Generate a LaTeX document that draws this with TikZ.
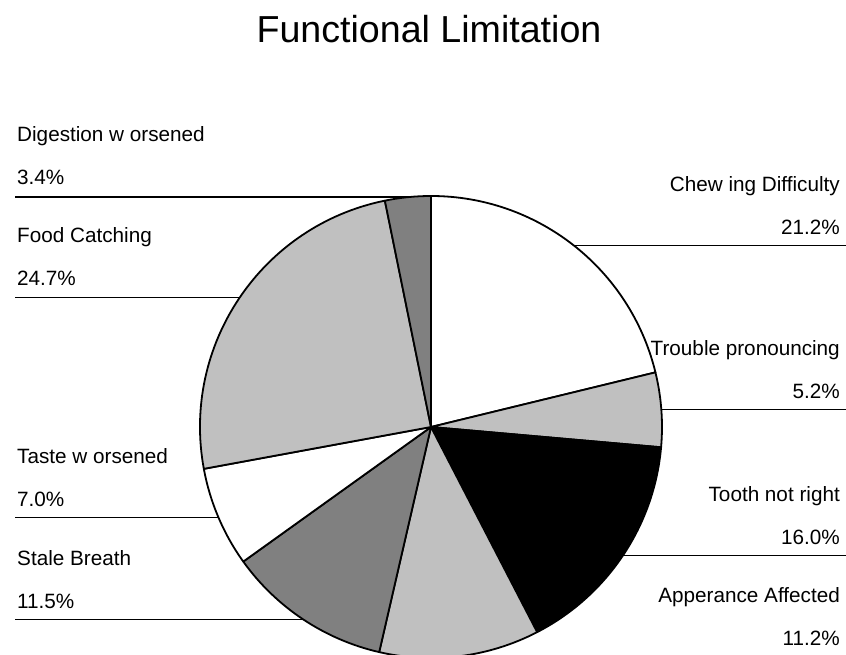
\documentclass[tikz,border=0pt]{standalone}
\usepackage{fontspec}
\setmainfont[Ligatures=NoCommon]{Liberation Sans}
\usepackage{tikz}
\definecolor{litegray}{HTML}{C0C0C0}
\definecolor{darkgray}{HTML}{808080}
\begin{document}
\begin{tikzpicture}[x=1pt,y=1pt,
    lbl/.style={font=\fontsize{20.7}{24}\selectfont, inner sep=0pt},
    leader/.style={line width=1.4pt},
    slice/.style={draw=black, line width=1.8pt, line join=round}]
  \useasboundingbox (0,0) rectangle (846,655);
  \coordinate (c) at (431,228);
  \node[font=\fontsize{37.6}{42}\selectfont, anchor=base, inner sep=0pt] (title) at (429,612.7) {Functional Limitation};
  % slices, clockwise from the top
  \foreach \a/\b/\col in {90/13.68/white, 13.68/-5.04/litegray, -5.04/-62.64/black,
      -62.64/-102.96/litegray, -102.96/-144.36/darkgray, -144.36/-169.56/white,
      -169.56/-258.48/litegray, -258.48/-270/darkgray}
    \filldraw[slice, fill=\col] (c) -- ++(\a:231) arc[start angle=\a, end angle=\b, radius=231] -- cycle;
  % rim points of the slices
  \path (c) ++(95.76:231) coordinate (digR);
  \path (c) ++(145.98:231) coordinate (foodR);
  \path (c) ++(51.84:231) coordinate (chewR);
  \path (c) ++(4.32:231) coordinate (troubR);
  \path (c) ++(-33.84:231) coordinate (toothR);
  \path (c) ++(-123.66:231) coordinate (staleR);
  \path (c) ++(-156.96:231) coordinate (tasteR);
  \coordinate (lft) at (15,0);
  \coordinate (rgt) at (846,0);
  % left labels
  \node[lbl, anchor=base west] (digN) at (17,513) {Digestion w orsened};
  \node[lbl, anchor=base west] (digP) at (17,470) {3.4\%};
  \node[lbl, anchor=base west] (foodN) at (17,412.5) {Food Catching};
  \node[lbl, anchor=base west] (foodP) at (17,369.5) {24.7\%};
  \node[lbl, anchor=base west] (tasteN) at (17,191.6) {Taste w orsened};
  \node[lbl, anchor=base west] (tasteP) at (17,148.6) {7.0\%};
  \node[lbl, anchor=base west] (staleN) at (17,89.7) {Stale Breath};
  \node[lbl, anchor=base west] (staleP) at (17,46.7) {11.5\%};
  % right labels
  \node[lbl, anchor=base east] (chewN) at (840,463.6) {Chew ing Difficulty};
  \node[lbl, anchor=base east] (chewP) at (840,420.6) {21.2\%};
  \node[lbl, anchor=base east] (troubN) at (840,299.4) {Trouble pronouncing};
  \node[lbl, anchor=base east] (troubP) at (840,256.4) {5.2\%};
  \node[lbl, anchor=base east] (toothN) at (840,153.3) {Tooth not right};
  \node[lbl, anchor=base east] (toothP) at (840,110.3) {16.0\%};
  \node[lbl, anchor=base east] (appN) at (840,52.8) {Apperance Affected};
  \node[lbl, anchor=base east] (appP) at (840,9.8) {11.2\%};
  % leader lines
  \draw[leader] (digR -| lft) -- (digR);
  \draw[leader] (foodR -| lft) -- (foodR);
  \draw[leader] (tasteR -| lft) -- (tasteR);
  \draw[leader] (staleR -| lft) -- (staleR);
  \draw[leader] (chewR) -- (chewR -| rgt);
  \draw[leader] (troubR) -- (troubR -| rgt);
  \draw[leader] (toothR) -- (toothR -| rgt);
\end{tikzpicture}
\end{document}
